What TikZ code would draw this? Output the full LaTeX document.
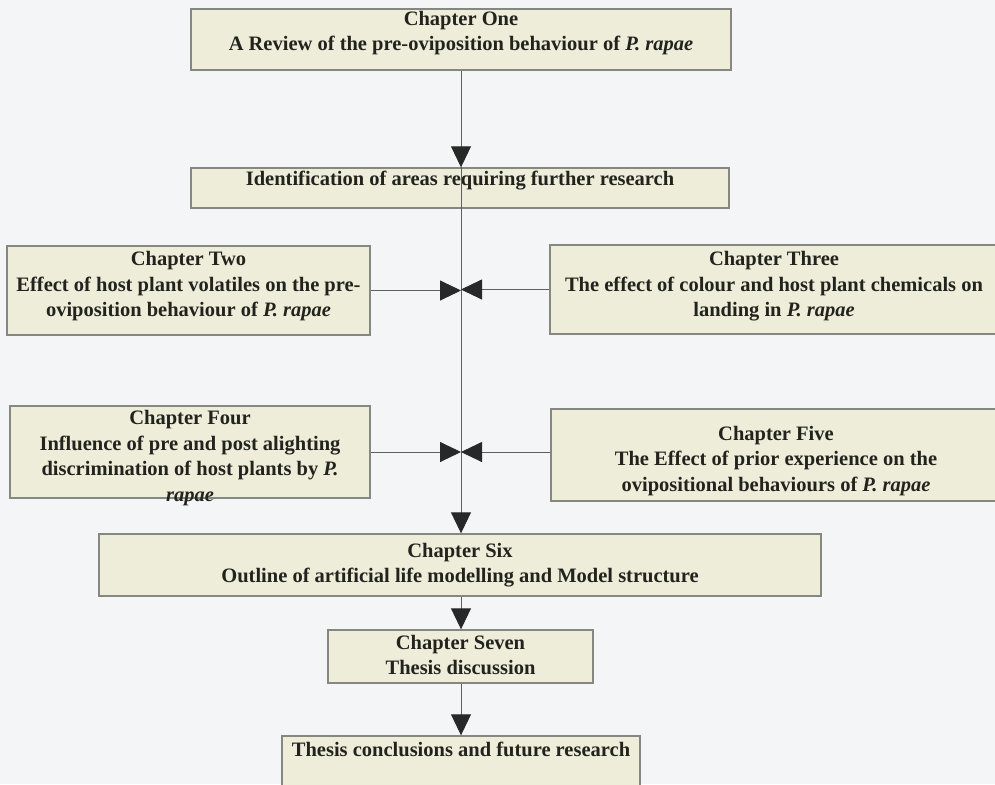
\documentclass[tikz,border=0pt]{standalone}
\usepackage{fontspec}
\setmainfont{Liberation Serif}
\usetikzlibrary{arrows.meta}
\definecolor{bgc}{RGB}{243,245,246}
\definecolor{boxfill}{RGB}{237,237,218}
\definecolor{boxline}{RGB}{135,135,130}
\definecolor{linec}{RGB}{95,95,95}
\definecolor{tipc}{RGB}{40,40,40}
\definecolor{txtc}{RGB}{35,35,30}
\tikzset{
  chbox/.style={draw=boxline, line width=1.4pt, fill=boxfill, rectangle, inner sep=0pt},
  chtext/.style={align=center, text=txtc, font=\fontsize{20.5}{25.5}\selectfont\bfseries, inner sep=0pt},
  conn/.style={draw=linec, line width=0.9pt},
  arr/.style={conn, -{Triangle[length=21pt,width=20pt,fill=tipc,color=tipc]}},
}
\begin{document}
\begin{tikzpicture}[x=1pt,y=-1pt]
\clip (0,0) rectangle (995,784);
\fill[bgc] (0,0) rectangle (995,784);
\coordinate (spine) at (461,0);
% boxes
\node[chbox, minimum width=540pt, minimum height=61pt] (c1) at (461,39.5) {};
\node[chtext] (c1t) at (461,33) {Chapter One\\A Review of the pre-oviposition behaviour of \textit{P. rapae}};
\node[chbox, minimum width=538pt, minimum height=40pt] (id) at (460,188) {};
\node[chtext] (idt) at (460,181) {Identification of areas requiring further research};
\node[chbox, minimum width=363pt, minimum height=89pt] (c2) at (188.5,290.5) {};
\node[chtext] (c2t) at (188.5,286.5) {Chapter Two\\Effect of host plant volatiles on the pre-\\oviposition behaviour of \textit{P. rapae}};
\node[chbox, minimum width=448pt, minimum height=89pt] (c3) at (774,289.5) {};
\node[chtext] (c3t) at (774,286.5) {Chapter Three\\The effect of colour and host plant chemicals on\\landing in \textit{P. rapae}};
\node[chbox, minimum width=360pt, minimum height=92pt] (c4) at (190,452) {};
\node[chtext] (c4t) at (190,458) {Chapter Four\\Influence of pre and post alighting\\discrimination of host plants by \textit{P.}\\\textit{rapae}};
\node[chbox, minimum width=450pt, minimum height=92pt] (c5) at (776,455) {};
\node[chtext] (c5t) at (776,461) {Chapter Five\\The Effect of prior experience on the\\ovipositional behaviours of \textit{P. rapae}};
\node[chbox, minimum width=722pt, minimum height=62pt] (c6) at (460,565) {};
\node[chtext] (c6t) at (460,565) {Chapter Six\\Outline of artificial life modelling and Model structure};
\node[chbox, minimum width=265pt, minimum height=53pt] (c7) at (460.5,656.5) {};
\node[chtext] (c7t) at (460.5,655) {Chapter Seven\\Thesis discussion};
\node[chbox, minimum width=358pt, minimum height=70pt] (th) at (461,771) {};
\node[chtext] (tht) at (461,749) {Thesis conclusions and future research};
% connectors
\draw[arr] (c1.south -| spine) -- (id.north -| spine);
\draw[conn] (id.north -| spine) -- (id.south -| spine);
\draw[arr] (id.south -| spine) -- (c6.north -| spine);
\draw[arr] (c2.east) -- (c2.east -| spine);
\draw[arr] (c3.west) -- (c3.west -| spine);
\draw[arr] (c4.east) -- (c4.east -| spine);
\draw[arr] (c5.west |- c4.east) -- (c4.east -| spine);
\draw[arr] (c6.south -| spine) -- (c7.north -| spine);
\draw[arr] (c7.south -| spine) -- (th.north -| spine);
\end{tikzpicture}
\end{document}
